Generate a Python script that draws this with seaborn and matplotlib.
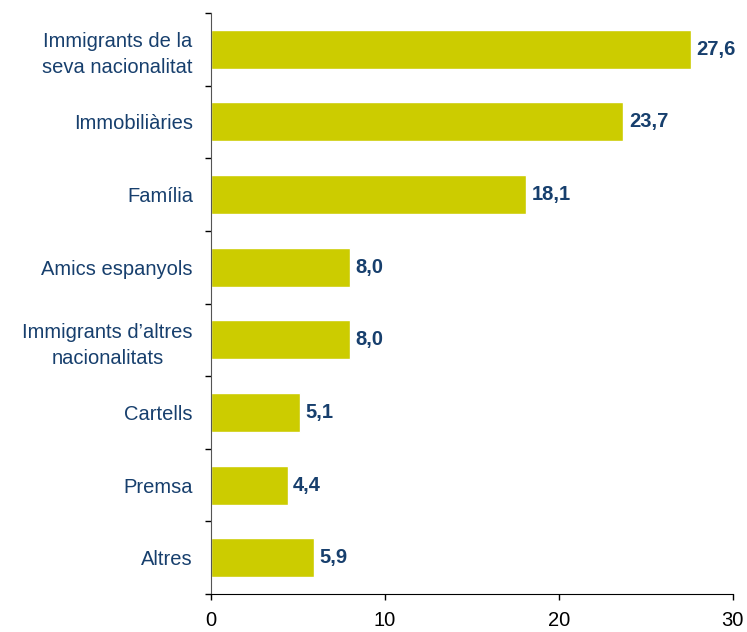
import pandas as pd
import matplotlib.pyplot as plt
import seaborn as sns

# Data
categories = ["Immigrants de la\nseva nacionalitat", "Immobiliàries", "Família",
              "Amics espanyols", "Immigrants d\u2019altres\nnacionalitats",
              "Cartells", "Premsa", "Altres"]
values = [27.6, 23.7, 18.1, 8.0, 8.0, 5.1, 4.4, 5.9]
x_ticks = [0, 10, 20, 30]

df = pd.DataFrame({"cat": categories, "val": values})

sns.set_style("white")
plt.rcParams['font.family'] = ['Liberation Sans', 'DejaVu Sans']

navy = "#173F6D"
fig = plt.figure(figsize=(7.47, 6.32), dpi=100)
ax = fig.add_axes([0.2825, 0.0601, 0.6985, 0.9193])

sns.barplot(data=df, x="val", y="cat", orient="h", color="#CCCC00",
            saturation=1, width=0.537, ax=ax)

# value labels
for i, v in enumerate(values):
    ax.annotate(f"{v:.1f}".replace(".", ","), xy=(v, i), xytext=(4, 0),
                textcoords="offset points", va="center", ha="left",
                fontsize=14.5, fontweight="bold", color=navy)

ax.set_xlim(0, 30)
ax.set_ylim(len(categories) - 0.5, -0.5)
ax.set_xticks(x_ticks)
ax.set_xticklabels([str(t) for t in x_ticks], fontsize=14.5, color="black")
ax.set_xlabel("")
ax.set_ylabel("")

for lab in ax.get_yticklabels():
    lab.set_fontsize(14.5)
    lab.set_color(navy)
    lab.set_multialignment("center")
    lab.set_linespacing(1.45)

# separators between categories on the y axis
ax.set_yticks([i - 0.5 for i in range(len(categories) + 1)], minor=True)
ax.tick_params(axis="y", which="major", length=0, pad=13)
ax.tick_params(axis="y", which="minor", length=4.3, width=1, color="black", left=True)
ax.tick_params(axis="x", which="major", length=4.3, width=1, color="black",
               bottom=True, pad=8)

sns.despine(ax=ax)
ax.spines["left"].set_color("#555555")
ax.spines["bottom"].set_color("black")

plt.savefig("out.png", dpi=100)
plt.close()
